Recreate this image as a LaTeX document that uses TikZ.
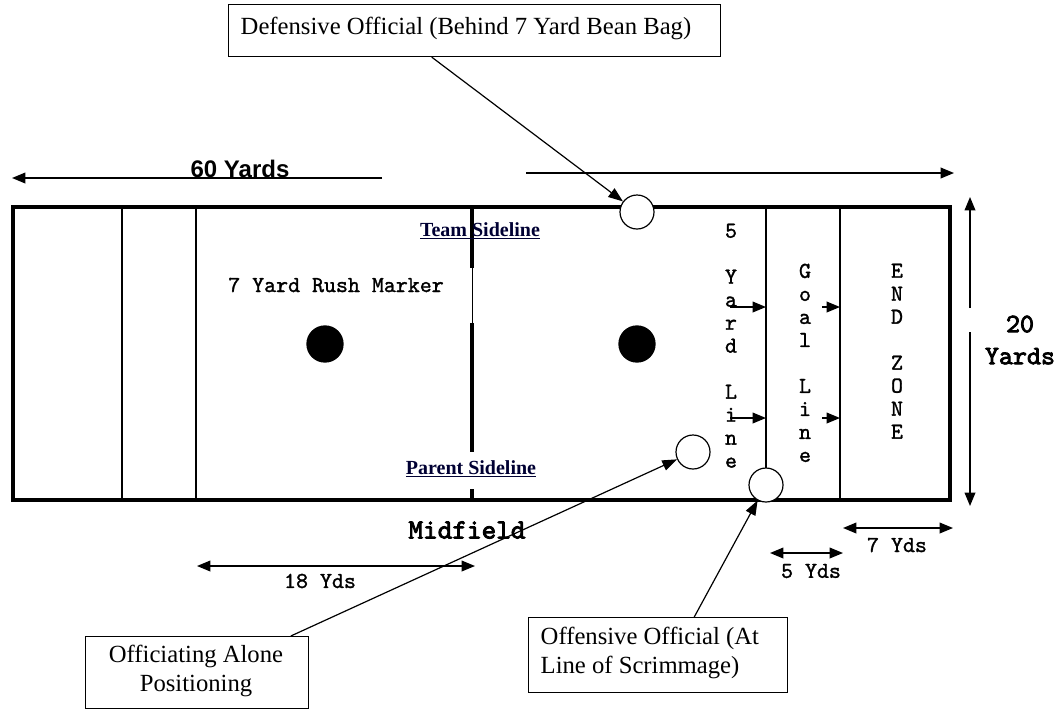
\documentclass[tikz,border=0pt]{standalone}
\usepackage{fontspec}
\setmainfont{Liberation Serif}
\newfontfamily\arialf{Liberation Sans}
\newfontfamily\courf[FakeBold=1.3]{lmmono10-regular.otf}
\newfontfamily\courbf[FakeBold=3]{lmmono10-regular.otf}
\usetikzlibrary{arrows.meta,calc}
\tikzset{
  field/.style={line width=3.6pt},
  inner line/.style={line width=2.2pt},
  dim/.style={line width=1.1pt,{Triangle[length=10pt,width=8pt]}-{Triangle[length=10pt,width=8pt]}},
  arr/.style={line width=1.1pt,-{Triangle[length=10pt,width=8pt]}},
  ptr/.style={line width=0.9pt,-{Triangle[length=11pt,width=8pt]}},
  official/.style={circle,draw,line width=0.9pt,fill=white,minimum size=25.5pt,inner sep=0pt},
  marker/.style={circle,fill=black,minimum size=28pt,inner sep=0pt},
  callout/.style={draw,line width=0.8pt,inner sep=0pt},
  times/.style={font=\fontsize{18.5}{22}\selectfont},
  mono/.style={font=\courf\fontsize{17.1}{17.25}\selectfont},
  vert/.style={font=\courf\fontsize{17.1}{17.25}\selectfont,align=center,anchor=north},
  side/.style={font=\bfseries\fontsize{15}{18}\selectfont,text=black!80!blue}
}
\begin{document}
\begin{tikzpicture}[x=0.75pt,y=-0.75pt]
\useasboundingbox (0,0) rectangle (1064,711);
% field lines
\draw[inner line] (122,207) -- (122,500);
\draw[inner line] (196,207) -- (196,500);
\draw[inner line] (766,207) -- (766,500);
\draw[inner line] (840,207) -- (840,500);
\draw[line width=2.8pt] (472,207) -- (472,268);
\draw[line width=0.5pt] (472,268) -- (472,323);
\draw[line width=2.8pt] (472,323) -- (472,452);
\draw[line width=2.8pt] (472,489) -- (472,500);
\draw[field] (13,207) rectangle (950,500);
% markers
\node[marker] (m1) at (325,344) {};
\node[marker] (m2) at (637,344) {};
% texts in field
\node[side,anchor=center] (team) at (480,231) {\underline{Team Sideline}};
\node[side,anchor=center] (parent) at (471,469) {\underline{Parent Sideline}};
\node[mono,anchor=west,inner sep=0pt] (rush) at (228,285) {7 Yard Rush Marker};
\node[vert] (fy) at (731,219) {5\\\mbox{}\\Y\\a\\r\\d\\\mbox{}\\L\\i\\n\\e};
\node[vert] (gl) at (805,259) {G\\o\\a\\l\\\mbox{}\\L\\i\\n\\e};
\node[vert] (ez) at (897,259) {E\\N\\D\\\mbox{}\\Z\\O\\N\\E};
% small arrows
\coordinate (a1s) at (730,307); \coordinate (a1e) at (766,307);
\coordinate (a2s) at (730,418); \coordinate (a2e) at (766,418);
\coordinate (a3s) at (822,307); \coordinate (a3e) at (840,307);
\coordinate (a4s) at (822,418); \coordinate (a4e) at (840,418);
\draw[arr] (a1s) -- (a1e);
\draw[arr] (a2s) -- (a2e);
\draw[arr] (a3s) -- (a3e);
\draw[arr] (a4s) -- (a4e);
% officials
\node[official] (c1) at (637,212) {};
\node[official] (c2) at (693,452) {};
\node[official] (c3) at (766,485) {};
% dimension arrows
\coordinate (s60a) at (382,178); \coordinate (s60b) at (12,178);
\draw[arr] (s60a) -- (s60b);
\node[font=\arialf\bfseries\fontsize{18}{20}\selectfont] (sixty) at (240,169) {60 Yards};
\coordinate (s60c) at (526,173); \coordinate (s60d) at (954,173);
\draw[arr] (s60c) -- (s60d);
\coordinate (t20a) at (970,308); \coordinate (t20b) at (970,197);
\coordinate (t20c) at (970,332); \coordinate (t20d) at (970,506);
\draw[arr] (t20a) -- (t20b);
\draw[arr] (t20c) -- (t20d);
\node[font=\courbf\fontsize{20}{24}\selectfont,align=center] (twenty) at (1020,340) {20\\Yards};
\node[font=\courbf\fontsize{20.9}{22}\selectfont] (mid) at (467,530) {Midfield};
\coordinate (d18a) at (197,566); \coordinate (d18b) at (475,566);
\draw[dim] (d18a) -- (d18b);
\node[mono] (y18) at (320,581) {18 Yds};
\coordinate (d5a) at (770,553); \coordinate (d5b) at (843,553);
\draw[dim] (d5a) -- (d5b);
\node[mono] (y5) at (811,571) {5 Yds};
\coordinate (d7a) at (843,528); \coordinate (d7b) at (953,528);
\draw[dim] (d7a) -- (d7b);
\node[mono] (y7) at (897,545) {7 Yds};
% callout boxes
\node[callout,minimum width=369pt,minimum height=39pt,anchor=north west] (def) at (228,4) {};
\node[times,anchor=west] (deft) at (236,28) {Defensive Official (Behind 7 Yard Bean Bag)};
\node[callout,minimum width=167pt,minimum height=54pt,anchor=north west] (alone) at (85,636) {};
\node[times,align=center] (alonet) at (196,671) {Officiating Alone\\Positioning};
\node[callout,minimum width=194pt,minimum height=56pt,anchor=north west] (off) at (528,617) {};
\node[times,align=left,anchor=west] (offt) at (536,653) {Offensive Official (At\\Line of Scrimmage)};
% pointers
\draw[ptr] ($(def.south west)!0.413!(def.south east)$) -- (c1);
\draw[ptr] ($(alone.north west)!0.92!(alone.north east)$) -- (c2);
\draw[ptr] ($(off.north west)!0.64!(off.north east)$) -- (c3);
\end{tikzpicture}
\end{document}
